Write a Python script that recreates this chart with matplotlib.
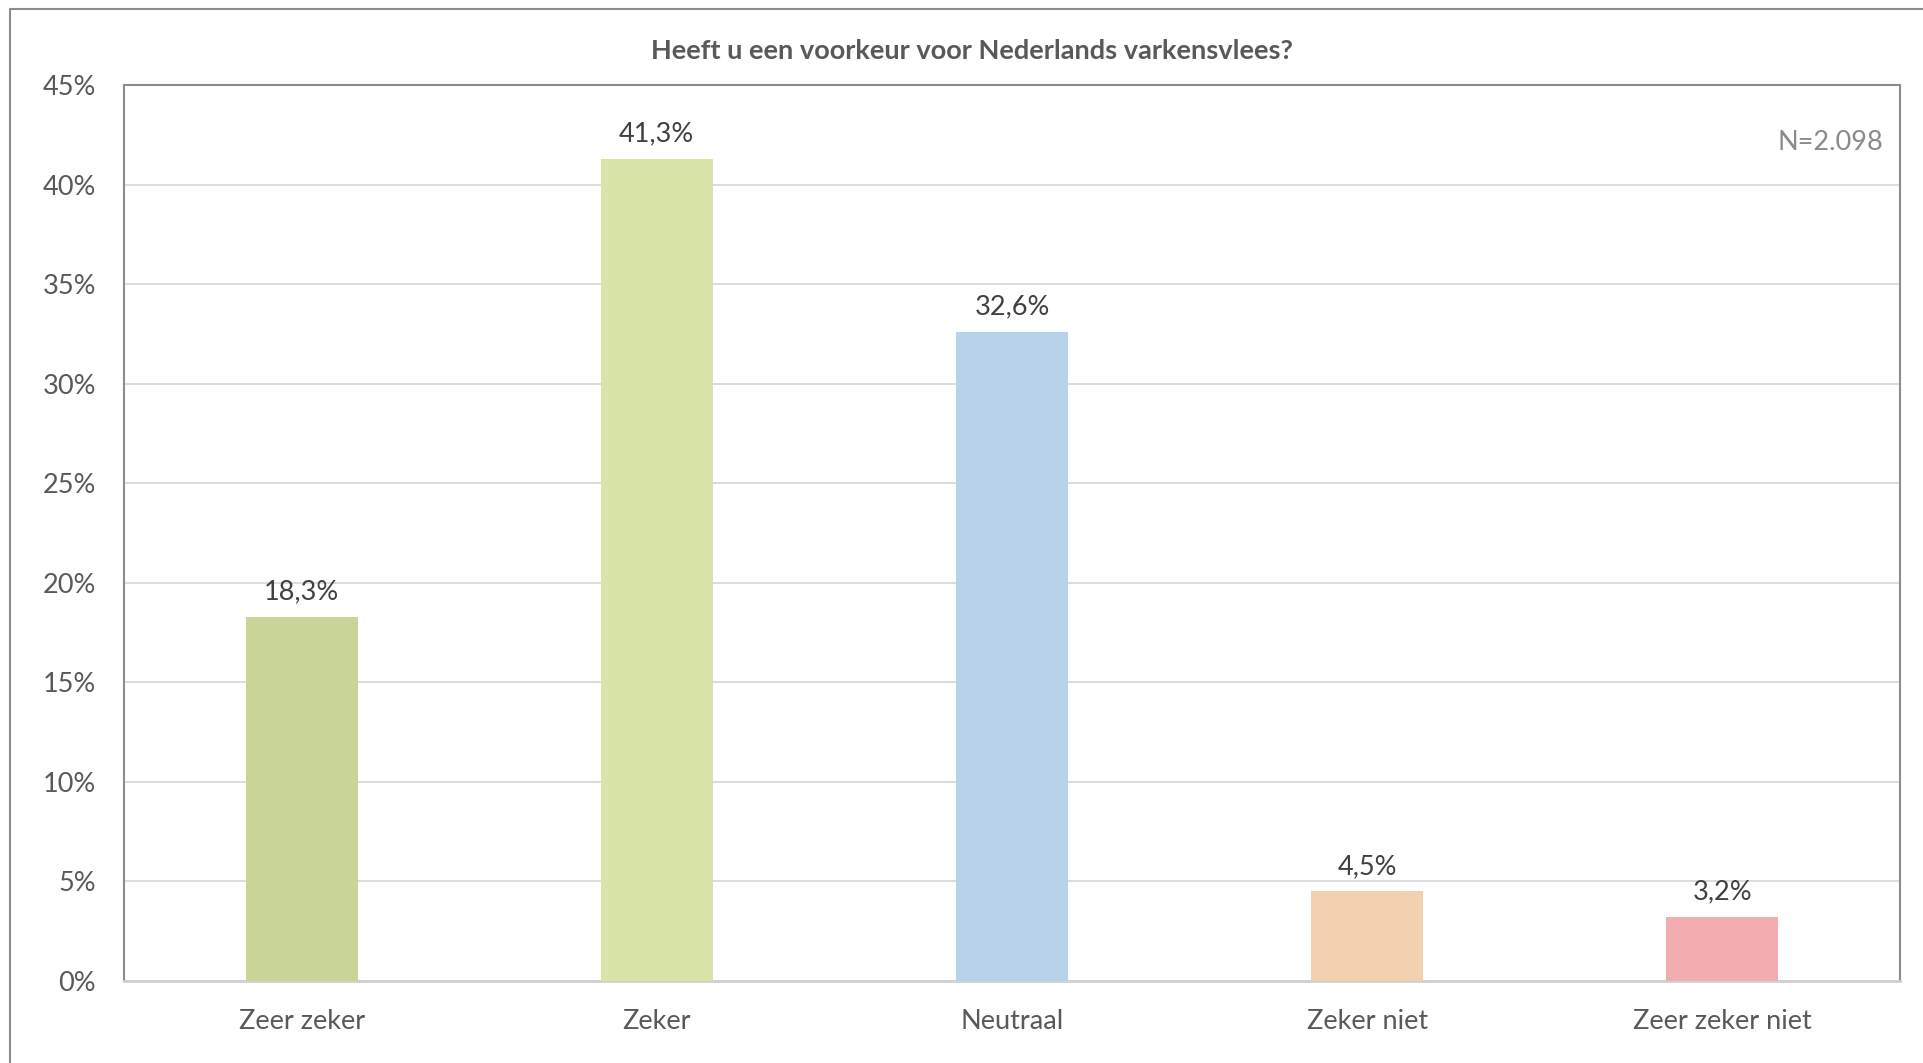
import matplotlib
matplotlib.use("Agg")
import matplotlib.pyplot as plt
from matplotlib.lines import Line2D

plt.rcParams['font.family'] = ['Lato', 'DejaVu Sans']

categories = ["Zeer zeker", "Zeker", "Neutraal", "Zeker niet", "Zeer zeker niet"]
values = [18.3, 41.3, 32.6, 4.5, 3.2]
colors = ["#c9d597", "#d8e4a8", "#b8d2ea", "#f3d0ae", "#f2aeae"]
yticks = [0, 5, 10, 15, 20, 25, 30, 35, 40, 45]
title = "Heeft u een voorkeur voor Nederlands varkensvlees?"
note = "N=2.098"

W, H = 1924, 1063
fig = plt.figure(figsize=(W / 100, H / 100), dpi=100)
fig.patch.set_facecolor("white")

ax = fig.add_axes([124 / W, (H - 981) / H, (1900 - 124) / W, (981 - 85) / H])
x = list(range(len(categories)))
ax.bar(x, values, width=0.315, color=colors, zorder=3)
ax.set_xlim(-0.5, len(categories) - 0.5)
ax.set_ylim(0, 45)
ax.set_yticks(yticks)
ax.set_yticklabels([f"{t}%" for t in yticks], fontsize=19.5, color="#595959")
ax.set_xticks(x)
ax.set_xticklabels(categories, fontsize=19.5, color="#595959")
ax.tick_params(axis="both", length=0)
ax.tick_params(axis="y", pad=20)
ax.tick_params(axis="x", pad=20)
ax.grid(axis="y", color="#d9d9d9", linewidth=1.3, zorder=0)
ax.set_axisbelow(True)
for s in ["left", "top", "right"]:
    ax.spines[s].set_color("#8c8c8c")
    ax.spines[s].set_linewidth(1.5)
ax.spines["bottom"].set_color("#d0d0d0")
ax.spines["bottom"].set_linewidth(2)

for xi, v in zip(x, values):
    ax.annotate(f"{v:.1f}%".replace(".", ","), (xi, v), xytext=(0, 9),
                textcoords="offset points", ha="center", va="bottom",
                fontsize=19.5, color="#404040")

fig.text(972 / W, 1 - 51 / H, title, ha="center", va="center",
         fontsize=19.5, fontweight="bold", color="#595959")
ax.text(0.9905, 0.936, note, transform=ax.transAxes, ha="right", va="center",
        fontsize=19.5, color="#8a8a8a")

fig.add_artist(Line2D([10 / W, 10 / W, 1.0], [0.0, 1 - 9 / H, 1 - 9 / H],
                      transform=fig.transFigure, color="#8c8c8c", linewidth=1.5))

fig.savefig("out.png", dpi=100, facecolor="white")
